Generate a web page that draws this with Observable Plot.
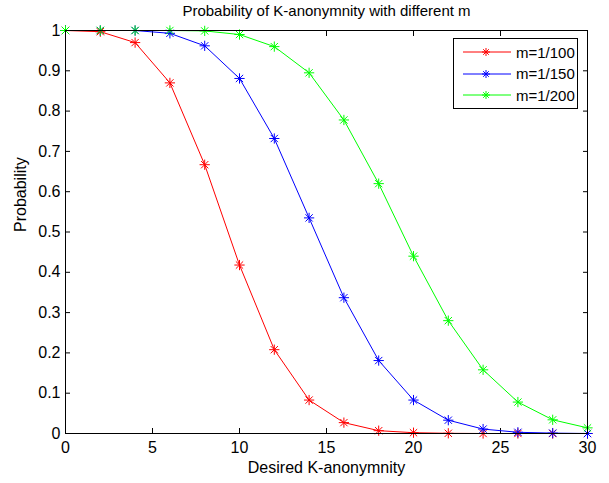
<!DOCTYPE html>
<html>
<head>
<meta charset="utf-8">
<script src="https://cdn.jsdelivr.net/npm/d3@7"></script>
<script src="https://cdn.jsdelivr.net/npm/@observablehq/plot@0.6"></script>
<style>
  body { margin: 0; background: #fff; }
  #wrap { position: relative; width: 609px; height: 483px; font-family: "Liberation Sans", Arial, sans-serif; }
  #legend { position: absolute; left: 453px; top: 38px; width: 125px; height: 71px; border: 1px solid #000; background: #fff; box-sizing: border-box; font-size: 15px; }
  .row { position: absolute; left: 0; height: 20px; display: flex; align-items: center; }
  .row span { margin-left: 3px; }
</style>
</head>
<body>
<div id="wrap"></div>
<script>
const kValues = [0, 2, 4, 6, 8, 10, 12, 14, 16, 18, 20, 22, 24, 26, 28, 30];
const seriesNames = ["m=1/100", "m=1/150", "m=1/200"];
const seriesColors = ["#ff0000", "#0000ff", "#00ff00"];
const probM100 = [1, 0.997, 0.97, 0.87, 0.667, 0.418, 0.208, 0.083, 0.027, 0.007, 0.002, 0.0005, 0, 0, 0, 0];
const probM150 = [1, 1, 1, 0.993, 0.962, 0.881, 0.732, 0.535, 0.337, 0.181, 0.083, 0.033, 0.011, 0.003, 0.001, 0];
const probM200 = [1, 1, 1, 1, 0.999, 0.99, 0.96, 0.895, 0.778, 0.62, 0.44, 0.28, 0.158, 0.078, 0.034, 0.014];
const xTicks = [0, 5, 10, 15, 20, 25, 30];
const yTicks = [0, 0.1, 0.2, 0.3, 0.4, 0.5, 0.6, 0.7, 0.8, 0.9, 1];
const titleText = "Probability of K-anonymnity with different m";
const xLabel = "Desired K-anonymnity";
const yLabel = "Probability";

const allSeries = [probM100, probM150, probM200];
const data = [];
allSeries.forEach((vals, si) => {
  vals.forEach((v, i) => data.push({k: kValues[i], p: v, s: seriesNames[si]}));
});

const fmt = d => (d === 0 || d === 1) ? String(d) : d.toFixed(1);
const FS = 16;

const plot = Plot.plot({
  width: 609,
  height: 483,
  marginTop: 30,
  marginLeft: 65,
  marginRight: 22,
  marginBottom: 50,
  style: {fontFamily: "'Liberation Sans', Arial, sans-serif", fontSize: FS + "px", background: "#fff", overflow: "visible"},
  x: {domain: [0, 30], ticks: xTicks},
  y: {domain: [0, 1], ticks: yTicks},
  color: {domain: seriesNames, range: seriesColors},
  marks: [
    Plot.axisX({anchor: "bottom", ticks: xTicks, tickSize: -5, tickPadding: 13, tickFormat: d => String(d), label: null, fontSize: FS, fill: "#000"}),
    Plot.axisX({anchor: "top", ticks: xTicks, tickSize: -5, tickFormat: () => "", label: null}),
    Plot.axisY({anchor: "left", ticks: yTicks, tickSize: -5, tickPadding: 10, tickFormat: fmt, label: null, fontSize: FS, fill: "#000"}),
    Plot.axisY({anchor: "right", ticks: yTicks, tickSize: -5, tickFormat: () => "", label: null}),
    Plot.line(data, {x: "k", y: "p", z: "s", stroke: "s", strokeWidth: 1}),
    Plot.dot(data, {x: "k", y: "p", stroke: "s", symbol: "plus", r: 3.4, strokeWidth: 1}),
    Plot.dot(data, {x: "k", y: "p", stroke: "s", symbol: "times", r: 3.4, strokeWidth: 1}),
    Plot.frame({stroke: "#000", strokeWidth: 1}),
    Plot.text([titleText], {text: d => d, frameAnchor: "top", lineAnchor: "middle", dy: -19, fontSize: 15, fill: "#000"}),
    Plot.text([xLabel], {text: d => d, frameAnchor: "bottom", lineAnchor: "middle", dy: 34, fontSize: FS, fill: "#000"}),
    Plot.text([yLabel], {text: d => d, frameAnchor: "left", dx: -45, rotate: -90, fontSize: FS, fill: "#000"})
  ]
});

const wrap = document.getElementById("wrap");
wrap.appendChild(plot);

const legend = document.createElement("div");
legend.id = "legend";
seriesNames.forEach((name, i) => {
  const row = document.createElement("div");
  row.className = "row";
  row.style.top = (3 + i * 21.5) + "px";
  const c = seriesColors[i];
  row.innerHTML = `<svg width="59" height="20"><line x1="9" y1="10" x2="57" y2="10" stroke="${c}" stroke-width="1"/>` +
    `<g stroke="${c}" stroke-width="1"><line x1="32" y1="6" x2="32" y2="14"/><line x1="28" y1="10" x2="36" y2="10"/><line x1="29.2" y1="7.2" x2="34.8" y2="12.8"/><line x1="29.2" y1="12.8" x2="34.8" y2="7.2"/></g></svg><span>${name}</span>`;
  legend.appendChild(row);
});
wrap.appendChild(legend);
</script>
</body>
</html>
